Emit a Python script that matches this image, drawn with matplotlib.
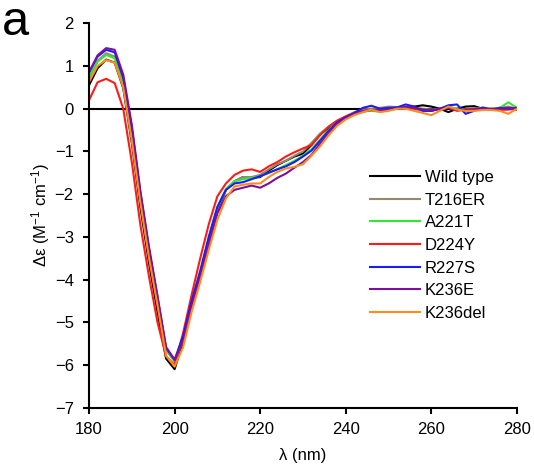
import numpy as np
import matplotlib
matplotlib.use('Agg')
import matplotlib.pyplot as plt

plt.rcParams['font.family'] = ['Liberation Sans', 'DejaVu Sans']
plt.rcParams['mathtext.fontset'] = 'custom'
plt.rcParams['mathtext.rm'] = 'Liberation Sans'
plt.rcParams['mathtext.it'] = 'Liberation Sans:italic'

# wavelength grid (nm), 2 nm steps
wl = np.arange(180, 281, 2)

wild_type = [0.55, 0.95, 1.15, 1.08, 0.48, -0.80, -2.30, -3.60, -4.75, -5.85, -6.10,
             -5.45, -4.60, -3.95, -3.20, -2.40, -1.90, -1.70, -1.60, -1.62, -1.60,
             -1.45, -1.32, -1.22, -1.12, -1.05, -0.85, -0.60, -0.45, -0.30, -0.20,
             -0.12, -0.07, -0.03, -0.05, -0.02, 0.00, 0.02, 0.05, 0.08, 0.05,
             0.00, -0.08, 0.00, 0.05, 0.06, 0.00, -0.02, 0.00, 0.00, -0.02]
t216er = [0.70, 1.12, 1.30, 1.22, 0.60, -0.62, -2.10, -3.40, -4.55, -5.65, -5.92,
          -5.40, -4.55, -3.85, -3.05, -2.35, -1.90, -1.70, -1.60, -1.60, -1.55,
          -1.42, -1.30, -1.22, -1.10, -1.00, -0.80, -0.58, -0.42, -0.28, -0.18,
          -0.08, -0.02, 0.00, 0.02, 0.05, 0.04, 0.00, 0.02, 0.00, -0.02,
          0.00, 0.02, 0.00, -0.02, 0.00, 0.02, 0.00, 0.02, 0.05, 0.00]
a221t = [0.75, 1.10, 1.26, 1.18, 0.58, -0.62, -2.10, -3.38, -4.50, -5.62, -5.92,
         -5.38, -4.50, -3.80, -3.00, -2.30, -1.88, -1.70, -1.65, -1.62, -1.58,
         -1.50, -1.42, -1.32, -1.22, -1.10, -0.95, -0.72, -0.50, -0.30, -0.20,
         -0.12, -0.05, -0.05, -0.07, -0.02, 0.02, 0.05, 0.00, -0.05, -0.05,
         0.00, 0.05, 0.00, -0.03, 0.00, -0.02, 0.00, 0.02, 0.15, 0.02]
d224y = [0.20, 0.62, 0.70, 0.60, 0.00, -1.25, -2.72, -3.92, -5.00, -5.80, -6.00,
         -5.25, -4.35, -3.50, -2.70, -2.05, -1.75, -1.55, -1.45, -1.42, -1.48,
         -1.35, -1.25, -1.12, -1.02, -0.93, -0.85, -0.62, -0.42, -0.28, -0.18,
         -0.10, -0.05, -0.02, -0.03, -0.02, 0.02, 0.03, 0.00, -0.03, -0.05,
         0.00, 0.02, -0.05, -0.02, 0.00, -0.02, 0.00, -0.03, -0.02, 0.00]
r227s = [0.85, 1.22, 1.38, 1.32, 0.72, -0.45, -1.98, -3.28, -4.42, -5.60, -5.88,
         -5.32, -4.50, -3.80, -3.00, -2.30, -1.90, -1.75, -1.72, -1.65, -1.58,
         -1.50, -1.42, -1.35, -1.25, -1.12, -0.98, -0.75, -0.52, -0.32, -0.20,
         -0.10, 0.02, 0.07, 0.00, 0.02, 0.03, 0.10, 0.05, -0.05, -0.05,
         0.00, 0.08, 0.10, -0.12, -0.05, 0.03, -0.02, 0.02, 0.00, 0.02]
k236e = [0.85, 1.25, 1.42, 1.38, 0.80, -0.38, -1.92, -3.22, -4.38, -5.58, -5.88,
         -5.42, -4.60, -3.90, -3.15, -2.45, -2.05, -1.90, -1.85, -1.80, -1.85,
         -1.75, -1.62, -1.52, -1.38, -1.25, -1.08, -0.82, -0.58, -0.35, -0.22,
         -0.12, -0.06, -0.03, -0.04, -0.02, 0.00, 0.04, 0.02, -0.02, -0.04,
         0.00, 0.02, -0.02, -0.03, -0.02, 0.00, -0.02, 0.00, 0.02, 0.00]
k236del = [0.63, 1.00, 1.14, 1.08, 0.50, -0.75, -2.20, -3.48, -4.60, -5.78, -6.04,
           -5.58, -4.75, -4.05, -3.30, -2.60, -2.10, -1.82, -1.78, -1.75, -1.75,
           -1.60, -1.48, -1.40, -1.36, -1.30, -1.10, -0.88, -0.62, -0.40, -0.25,
           -0.15, -0.08, -0.02, -0.08, -0.05, 0.00, 0.00, -0.05, -0.10, -0.15,
           -0.05, 0.05, -0.02, -0.05, -0.05, -0.03, -0.03, -0.05, -0.12, 0.00]

labels = ['Wild type', 'T216ER', 'A221T', 'D224Y', 'R227S', 'K236E', 'K236del']
series = [wild_type, t216er, a221t, d224y, r227s, k236e, k236del]
colors = ['black', '#948a6b', '#33e633', '#ff1a1a', '#1a1aff', '#7b0fa0', '#ff8c1a']

fig = plt.figure(figsize=(5.34, 4.72), dpi=100)
ax = fig.add_axes((0.1667, 0.1364, 0.8013, 0.8142))

ax.axhline(0, color='black', lw=1.5, zorder=1)
for y, lab, c in zip(series, labels, colors):
    ax.plot(wl, y, color=c, lw=1.5, label=lab, zorder=2, solid_joinstyle='round')

ax.set_xlim(180, 280)
ax.set_ylim(-7, 2)
ax.set_xticks(np.arange(180, 281, 20))
ax.set_yticks(np.arange(-7, 3, 1))
for s in ['top', 'right']:
    ax.spines[s].set_visible(False)
for s in ['left', 'bottom']:
    ax.spines[s].set_linewidth(1.5)
ax.tick_params(direction='out', length=4, width=1.5, labelsize=12)
ax.tick_params(axis='y', pad=7)
ax.tick_params(axis='x', pad=6)
ax.set_xlabel('λ (nm)', fontsize=12, labelpad=8)
ax.set_ylabel('Δε (M$^{-1}$ cm$^{-1}$)', fontsize=12, labelpad=2)

ax.legend(loc='upper left', bbox_to_anchor=(0.692, 0.640), bbox_transform=fig.transFigure,
          frameon=False, fontsize=12, handlelength=3.0, handletextpad=0.3,
          labelspacing=0.46, borderpad=0, borderaxespad=0)

fig.text(0.004, 0.926, 'a', fontsize=35, va='baseline', ha='left')

fig.savefig('out.png', dpi=100)
